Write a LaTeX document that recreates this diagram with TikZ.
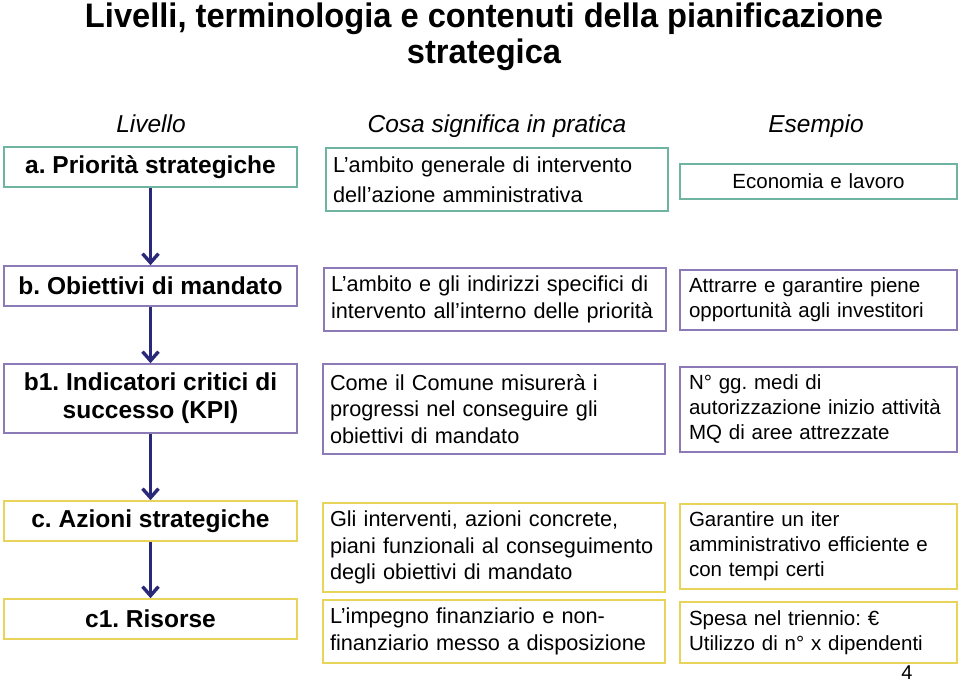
\documentclass[tikz,border=0pt]{standalone}
\usepackage{fontspec}
\setmainfont{Liberation Sans}
\newfontfamily\titlefont[FakeStretch=0.96]{Liberation Sans}
\usetikzlibrary{arrows.meta}
\definecolor{tealline}{RGB}{110,180,160}
\definecolor{lilacline}{RGB}{140,122,182}
\definecolor{goldline}{RGB}{232,212,90}
\definecolor{navyarrow}{RGB}{42,40,120}
\frenchspacing
\begin{document}
\begin{tikzpicture}[x=1pt,y=-1pt,
    livbox/.style={draw=#1,line width=1.6pt,minimum width=293pt,inner sep=0pt,align=center,
      font=\bfseries\fontsize{24.5}{28}\selectfont},
    cosabox/.style={draw=#1,line width=1.6pt,minimum width=342pt,text width=328pt,inner xsep=7pt,
      inner ysep=0pt,align=left,font=\fontsize{21.7}{26.5}\selectfont},
    esbox/.style={draw=#1,line width=1.6pt,minimum width=277pt,text width=259pt,inner xsep=9pt,
      inner ysep=0pt,align=left,font=\fontsize{20.5}{25}\selectfont},
    titoloriga/.style={anchor=base,font=\titlefont\bfseries\fontsize{34}{36}\selectfont},
    testa/.style={anchor=base,font=\itshape\fontsize{24.5}{28}\selectfont},
    freccia/.style={draw=navyarrow,line width=3.4pt,-{Straight Barb[length=9pt,width=16pt]}}]
  \useasboundingbox (0,0) rectangle (960,682);
  % titolo e intestazioni
  \node[titoloriga] (titolo) at (484,28) {Livelli, terminologia e contenuti della pianificazione};
  \node[titoloriga] (titolob) at (484,64) {strategica};
  \node[testa] (hliv) at (151,132) {Livello};
  \node[testa] (hcosa) at (497,132) {Cosa significa in pratica};
  \node[testa] (hes) at (816,132) {Esempio};
  % livelli
  \node[livbox=tealline,minimum height=40pt] (liva) at (150.5,167) {a. Priorità strategiche};
  \node[livbox=lilacline,minimum height=40pt] (livb) at (150.5,286) {b. Obiettivi di mandato};
  \node[livbox=lilacline,minimum height=69pt] (livbi) at (150.5,398.5) {b1. Indicatori critici di\\successo (KPI)};
  \node[livbox=goldline,minimum height=40pt] (livc) at (150.5,521) {c. Azioni strategiche};
  \node[livbox=goldline,minimum height=40pt] (livci) at (150.5,619) {c1. Risorse};
  % cosa significa
  \node[cosabox=tealline,minimum height=63pt,font=\fontsize{21.7}{30}\selectfont] (cosaa) at (497,179.5) {L’ambito generale di intervento\\dell’azione amministrativa};
  \node[cosabox=lilacline,minimum height=63pt] (cosab) at (495,299.5) {L’ambito e gli indirizzi specifici di\\intervento all’interno delle priorità};
  \node[cosabox=lilacline,minimum height=90pt] (cosabi) at (494,409) {Come il Comune misurerà i\\progressi nel conseguire gli\\obiettivi di mandato};
  \node[cosabox=goldline,minimum height=89pt] (cosac) at (494,547.5) {Gli interventi, azioni concrete,\\piani funzionali al conseguimento\\degli obiettivi di mandato};
  \node[cosabox=goldline,minimum height=63pt] (cosaci) at (494,631.5) {L’impegno finanziario e non-\\finanziario messo a disposizione};
  % esempi
  \node[esbox=tealline,minimum height=35pt,align=center] (esa) at (818.5,181.5) {Economia e lavoro};
  \node[esbox=lilacline,minimum height=60pt] (esb) at (818.5,300) {Attrarre e garantire piene\\opportunità agli investitori};
  \node[esbox=lilacline,minimum height=85pt] (esbi) at (818.5,409.5) {N° gg. medi di\\autorizzazione inizio attività\\MQ di aree attrezzate};
  \node[esbox=goldline,minimum height=85pt] (esc) at (818.5,546.5) {Garantire un iter\\amministrativo efficiente e\\con tempi certi};
  \node[esbox=goldline,minimum height=61pt] (esci) at (818.5,632.5) {Spesa nel triennio: €\\Utilizzo di n° x dipendenti};
  \node[anchor=base,font=\fontsize{20}{24}\selectfont] (pagina) at (907,679) {4};
  % frecce
  \draw[freccia] (liva) -- (livb);
  \draw[freccia] (livb) -- (livbi);
  \draw[freccia] (livbi) -- (livc);
  \draw[freccia] (livc) -- (livci);
\end{tikzpicture}
\end{document}
